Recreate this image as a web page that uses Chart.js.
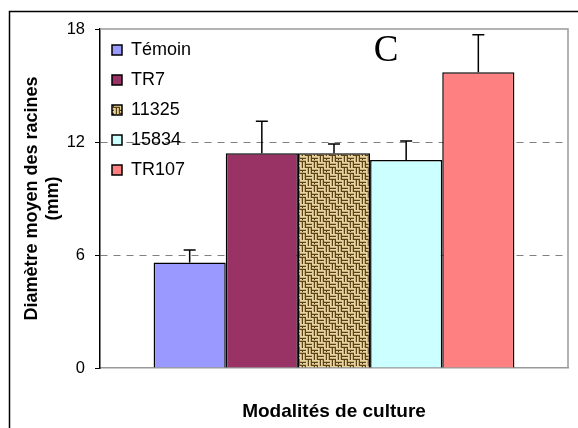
<!DOCTYPE html>
<html>
<head>
<meta charset="utf-8">
<script src="https://cdn.jsdelivr.net/npm/chart.js@4"></script>
<style>
  html, body { margin: 0; padding: 0; background: #fff; }
  #wrap { width: 578px; height: 428px; }
</style>
</head>
<body>
<div id="wrap"><canvas id="chart" width="578" height="428"></canvas></div>
<script>
const categories = ["Témoin", "TR7", "11325", "15834", "TR107"];
const means = [5.6, 11.4, 11.4, 11.05, 15.7];
const errors = [0.66, 1.7, 0.5, 1.0, 2.0];
const yTicks = [0, 6, 12, 18];

const FONT = "'Liberation Sans', Arial, sans-serif";

// woven jute look for the 11325 bar: alternating blocks of horizontal and vertical strands
function burlap() {
    const c = document.createElement("canvas");
    c.width = c.height = 12;
    const g = c.getContext("2d");
    g.fillStyle = "#a68a52";
    g.fillRect(0, 0, 12, 12);
    for (let by = 0; by < 2; by++) {
        for (let bx = 0; bx < 2; bx++) {
            const horiz = (bx + by) % 2 === 0;
            for (let k = 0; k < 6; k++) {
                const shade = k % 3 === 2 ? "#5c4218" : k % 3 === 0 ? "#e6d5a2" : "#c9b078";
                g.fillStyle = shade;
                if (horiz) g.fillRect(bx * 6, by * 6 + k, 6, 1);
                else g.fillRect(bx * 6 + k, by * 6, 1, 6);
            }
        }
    }
    // a few knots to break the regularity
    g.fillStyle = "#4a3410";
    g.fillRect(2, 3, 1, 1);
    g.fillRect(9, 8, 1, 1);
    return g.createPattern(c, "repeat");
}

const fills = ["#9999ff", "#993366", burlap(), "#ccffff", "#ff8080"];

const frame = {
    id: "frame",
    afterLayout(chart) {
        // keep the legend column inside the plot area
        if (chart.legend) chart.legend.top = chart.chartArea.top;
    },
    beforeDraw(chart) {
        const { ctx } = chart;
        ctx.save();
        ctx.fillStyle = "#fff";
        ctx.fillRect(0, 0, chart.width, chart.height);
        ctx.strokeStyle = "#000";
        ctx.lineWidth = 1.5;
        ctx.beginPath();
        ctx.moveTo(9.5, chart.height + 2);
        ctx.lineTo(9.5, 11.5);
        ctx.lineTo(chart.width + 2, 11.5);
        ctx.stroke();
        ctx.restore();
    },
    beforeDatasetsDraw(chart) {
        const { ctx, chartArea: a } = chart;
        ctx.save();
        ctx.strokeStyle = "#999";
        ctx.lineWidth = 1.5;
        ctx.beginPath();
        ctx.moveTo(a.left, a.top);
        ctx.lineTo(a.right, a.top);
        ctx.lineTo(a.right, a.bottom);
        ctx.stroke();
        ctx.restore();
    },
    afterDraw(chart) {
        const { ctx } = chart;
        ctx.save();
        ctx.fillStyle = "#000";
        ctx.font = "37px 'Liberation Serif', 'Times New Roman', serif";
        ctx.textAlign = "center";
        ctx.textBaseline = "alphabetic";
        ctx.fillText("C", 386, 61);
        ctx.restore();
    },
};

// upper error bar with a cap on each bar
const errorBars = {
    id: "errorBars",
    afterDatasetsDraw(chart) {
        const { ctx } = chart;
        const y = chart.scales.y;
        ctx.save();
        ctx.strokeStyle = "#000";
        ctx.lineWidth = 1.5;
        chart.data.datasets.forEach((ds, i) => {
            const bar = chart.getDatasetMeta(i).data[0];
            const top = y.getPixelForValue(ds.data[0] + errors[i]);
            ctx.beginPath();
            ctx.moveTo(bar.x, bar.y);
            ctx.lineTo(bar.x, top);
            ctx.moveTo(bar.x - 6, top);
            ctx.lineTo(bar.x + 6, top);
            ctx.stroke();
        });
        ctx.restore();
    },
};

new Chart(document.getElementById("chart"), {
    type: "bar",
    data: {
        labels: [""],
        datasets: categories.map((name, i) => ({
            label: name,
            data: [means[i]],
            backgroundColor: fills[i],
            borderColor: "#000",
            borderWidth: 1.5,
            barPercentage: 1,
            categoryPercentage: 0.771,
        })),
    },
    options: {
        responsive: false,
        animation: false,
        devicePixelRatio: 1,
        layout: { padding: { top: 29, right: 10, left: 0, bottom: 0 } },
        plugins: {
            tooltip: { enabled: false },
            legend: {
                position: "chartArea",
                align: "start",
                labels: {
                    boxWidth: 10,
                    boxHeight: 10,
                    padding: 12,
                    color: "#000",
                    font: { family: FONT, size: 18 },
                },
            },
        },
        scales: {
            x: {
                afterFit: (s) => { s.height = 60; },
                ticks: { display: false },
                grid: { drawOnChartArea: false, drawTicks: false },
                border: { color: "#999", width: 1.5 },
                title: {
                    display: true,
                    text: "Modalités de culture",
                    color: "#000",
                    font: { family: FONT, size: 19, weight: "bold" },
                    padding: { top: 0, bottom: 5 },
                },
            },
            y: {
                min: 0,
                max: 18,
                afterFit: (s) => { s.width = 100; },
                afterBuildTicks: (s) => { s.ticks = yTicks.map((v) => ({ value: v })); },
                ticks: {
                    color: "#000",
                    padding: 10,
                    font: { family: FONT, size: 16.5 },
                },
                grid: {
                    color: (c) => (c.tick && (c.tick.value === 0 || c.tick.value === 18) ? "transparent" : "#808080"),
                    tickColor: "#000",
                    tickLength: 5,
                    lineWidth: 1,
                },
                border: { color: "#000", width: 1.5, dash: [7, 6] },
                title: {
                    display: true,
                    text: ["Diamètre moyen des racines", "(mm)"],
                    color: "#000",
                    font: { family: FONT, size: 18, weight: "bold", lineHeight: 1.2 },
                    padding: { top: 21, bottom: 0 },
                },
            },
        },
    },
    plugins: [frame, errorBars],
});
</script>
</body>
</html>
